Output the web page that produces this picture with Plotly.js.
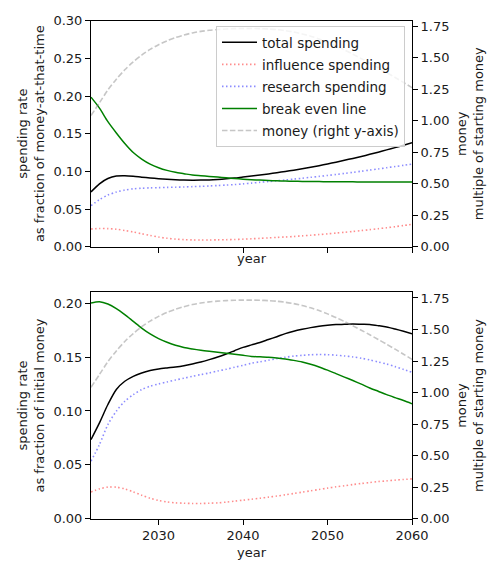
<!DOCTYPE html>
<html>
<head>
<meta charset="utf-8">
<script src="https://cdn.plot.ly/plotly-3.0.1.min.js"></script>
<style>html,body{margin:0;padding:0;background:#fff;}#chart{width:493px;height:564px;}</style>
</head>
<body>
<div id="chart"></div>
<script>
const years = [2022,2023,2024,2025,2026,2027,2028,2029,2030,2031,2032,2033,2034,2035,2036,2037,2038,2039,2040,2041,
  2042,2043,2044,2045,2046,2047,2048,2049,2050,2051,2052,2053,2054,2055,2056,2057,2058,2059,2060];

// top panel: fraction of money-at-that-time
const topTotal = [0.0727,0.0835,0.0905,0.0938,0.0942,0.0935,0.0923,0.0912,0.0903,0.0895,0.0889,0.0885,0.0883,0.0884,0.0887,0.0893,0.0901,0.0911,0.0925,0.0938,
  0.0951,0.0966,0.0982,0.0999,0.1016,0.1035,0.1055,0.1076,0.1099,0.1122,0.1147,0.1172,0.1198,0.1226,0.1255,0.1285,0.1315,0.1347,0.1380];
const topInfluence = [0.0235,0.0241,0.0240,0.0232,0.0215,0.0195,0.0172,0.0150,0.0128,0.0112,0.0101,0.0094,0.0090,0.0089,0.0089,0.0091,0.0093,0.0096,0.0100,0.0105,
  0.0111,0.0117,0.0123,0.0129,0.0136,0.0144,0.0152,0.0161,0.0171,0.0181,0.0191,0.0202,0.0214,0.0226,0.0239,0.0252,0.0266,0.0281,0.0296];
const topResearch = [0.0544,0.0625,0.0685,0.0725,0.0752,0.0768,0.0776,0.0781,0.0784,0.0787,0.0790,0.0793,0.0797,0.0801,0.0806,0.0812,0.0818,0.0825,0.0834,0.0844,
  0.0855,0.0865,0.0875,0.0886,0.0897,0.0909,0.0921,0.0933,0.0946,0.0959,0.0973,0.0987,0.1002,0.1017,0.1032,0.1048,0.1064,0.1080,0.1096];
const topBreakEven = [0.1985,0.1840,0.1660,0.1510,0.1370,0.1250,0.1164,0.1097,0.1049,0.1013,0.0987,0.0969,0.0951,0.0942,0.0933,0.0925,0.0915,0.0905,0.0897,0.0890,
  0.0884,0.0879,0.0875,0.0872,0.0869,0.0867,0.0865,0.0864,0.0863,0.0862,0.0862,0.0861,0.0860,0.0860,0.0859,0.0859,0.0858,0.0858,0.0858];

// bottom panel: fraction of initial money
const botTotal = [0.0735,0.0890,0.1060,0.1200,0.1276,0.1322,0.1353,0.1375,0.1390,0.1400,0.1409,0.1421,0.1437,0.1455,0.1477,0.1501,0.1529,0.1560,0.1591,0.1614,
  0.1636,0.1663,0.1690,0.1718,0.1740,0.1758,0.1774,0.1786,0.1795,0.1802,0.1805,0.1808,0.1805,0.1802,0.1792,0.1780,0.1761,0.1740,0.1718];
const botInfluence = [0.0248,0.0277,0.0293,0.0293,0.0277,0.0249,0.0218,0.0190,0.0169,0.0156,0.0147,0.0144,0.0141,0.0141,0.0144,0.0147,0.0154,0.0163,0.0172,0.0181,
  0.0190,0.0200,0.0210,0.0222,0.0234,0.0246,0.0259,0.0271,0.0284,0.0296,0.0306,0.0317,0.0327,0.0336,0.0345,0.0351,0.0358,0.0364,0.0370];
const botResearch = [0.0534,0.0688,0.0874,0.0998,0.1090,0.1152,0.1199,0.1230,0.1251,0.1270,0.1288,0.1304,0.1322,0.1338,0.1353,0.1372,0.1387,0.1406,0.1424,0.1443,
  0.1457,0.1471,0.1486,0.1499,0.1510,0.1517,0.1522,0.1524,0.1523,0.1518,0.1511,0.1502,0.1490,0.1474,0.1455,0.1436,0.1412,0.1386,0.1360];
const botBreakEven = [0.2003,0.2015,0.1993,0.1950,0.1894,0.1832,0.1770,0.1715,0.1672,0.1638,0.1610,0.1590,0.1576,0.1564,0.1554,0.1545,0.1536,0.1527,0.1517,0.1507,
  0.1503,0.1498,0.1491,0.1483,0.1470,0.1455,0.1434,0.1409,0.1379,0.1347,0.1315,0.1283,0.1249,0.1214,0.1183,0.1152,0.1124,0.1097,0.1067];

// money, multiple of starting money (right axes)
const money = [1.042,1.143,1.245,1.330,1.405,1.468,1.522,1.567,1.604,1.635,1.661,1.681,1.698,1.710,1.719,1.725,1.729,1.732,1.733,1.733,
  1.732,1.729,1.724,1.716,1.705,1.690,1.672,1.650,1.624,1.595,1.563,1.529,1.494,1.458,1.421,1.383,1.344,1.304,1.263];

const names = ['total spending','influence spending','research spending','break even line','money (right y-axis)'];
const styles = [
  {color:'#000000', width:1.5, dash:'solid'},
  {color:'rgba(255,0,0,0.45)', width:1.6, dash:'1.5px,2.5px'},
  {color:'rgba(0,0,255,0.45)', width:1.6, dash:'1.5px,2.5px'},
  {color:'#008000', width:1.5, dash:'solid'},
  {color:'rgba(128,128,128,0.45)', width:1.6, dash:'5.5px,2.4px'}
];

function mk(y, i, xa, ya, showleg) {
  return {x: years, y: y, type:'scatter', mode:'lines', name: names[i], legendgroup: 'g' + i,
    line: Object.assign({shape:'spline', smoothing:0.8}, styles[i]),
    xaxis: xa, yaxis: ya, showlegend: showleg, hoverinfo:'skip'};
}

const data = [
  mk(topTotal,0,'x','y',true), mk(topInfluence,1,'x','y',true), mk(topResearch,2,'x','y',true), mk(topBreakEven,3,'x','y',true),
  mk(money,4,'x','y2',true),
  mk(botTotal,0,'x2','y3',false), mk(botInfluence,1,'x2','y3',false), mk(botResearch,2,'x2','y3',false), mk(botBreakEven,3,'x2','y3',false),
  mk(money,4,'x2','y4',false)
];

const tickFont = {family:'DejaVu Sans', size:13, color:'#1a1a1a'};
const common = {showgrid:false, zeroline:false, showline:true, linecolor:'#000', linewidth:1,
  ticks:'outside', ticklen:5, tickwidth:1, tickcolor:'#000', tickfont:tickFont};
const xdom = [91/493, 412/493];
const topDom = [1-246.7/564, 1-20.7/564];
const botDom = [1-518.7/564, 1-292.3/564];

const layout = {
  width:493, height:564,
  margin:{l:0,r:0,t:0,b:0},
  paper_bgcolor:'#fff', plot_bgcolor:'#fff',
  font:{family:'DejaVu Sans', size:13, color:'#1a1a1a'},
  xaxis: Object.assign({}, common, {domain:xdom, anchor:'y', range:[2022,2060], tickvals:[2030,2040,2050,2060],
    showticklabels:false, mirror:true, title:{text:'year', standoff:2, font:{size:13}}}),
  yaxis: Object.assign({}, common, {domain:topDom, anchor:'x', range:[0,0.30], tick0:0, dtick:0.05, tickformat:'.2f',
    title:{text:'spending rate<br>as fraction of money-at-that-time', standoff:5, font:{size:13}}}),
  yaxis2: Object.assign({}, common, {overlaying:'y', side:'right', anchor:'x', range:[0,1.795], tick0:0, dtick:0.25, tickformat:'.2f',
    title:{text:'money<br>multiple of starting money', standoff:8, font:{size:13}}}),
  xaxis2: Object.assign({}, common, {domain:xdom, anchor:'y3', range:[2022,2060], tickvals:[2030,2040,2050,2060],
    mirror:true, title:{text:'year', standoff:5, font:{size:13}}}),
  yaxis3: Object.assign({}, common, {domain:botDom, anchor:'x2', range:[0,0.2102], tick0:0, dtick:0.05, tickformat:'.2f',
    title:{text:'spending rate<br>as fraction of initial money', standoff:5, font:{size:13}}}),
  yaxis4: Object.assign({}, common, {overlaying:'y3', side:'right', anchor:'x2', range:[0,1.795], tick0:0, dtick:0.25, tickformat:'.2f',
    title:{text:'money<br>multiple of starting money', standoff:8, font:{size:13}}}),
  legend:{x:405/493, y:1-26/564, xanchor:'right', yanchor:'top', bgcolor:'rgba(255,255,255,0.8)',
    bordercolor:'#cccccc', borderwidth:1, font:{family:'DejaVu Sans', size:13.5, color:'#1a1a1a'}, itemwidth:35, tracegroupgap:1.5},
  showlegend:true
};

Plotly.newPlot('chart', data, layout, {displayModeBar:false, staticPlot:true});
</script>
</body>
</html>
